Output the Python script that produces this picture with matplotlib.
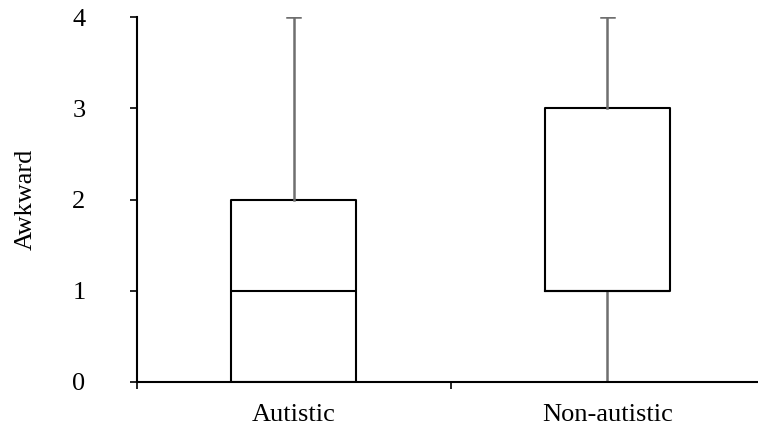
import matplotlib
matplotlib.use("Agg")
import matplotlib.pyplot as plt

# box plot summary
groups = ["Autistic", "Non-autistic"]
mins = [0, 0]
q1s = [0, 1]
medians = [1, 1]
q3s = [2, 3]
maxs = [4, 4]

plt.rcParams['font.family'] = ['Liberation Serif', 'DejaVu Serif']

fig = plt.figure(figsize=(7.58, 4.32), dpi=100)
ax = fig.add_axes([137 / 758, 1 - 382 / 432, (757 - 137) / 758, (382 - 17) / 432])

stats = []
for name, lo, a, m, b, hi in zip(groups, mins, q1s, medians, q3s, maxs):
    stats.append(dict(label=name, whislo=lo, q1=a, med=m, q3=b, whishi=hi, fliers=[]))

positions = list(range(1, len(groups) + 1))
ax.bxp(stats, positions=positions, widths=0.4, showfliers=False, capwidths=0.04,
       boxprops=dict(color='black', linewidth=1.5),
       medianprops=dict(color='black', linewidth=1.5),
       whiskerprops=dict(color='#6f6f6f', linewidth=1.8),
       capprops=dict(color='#6f6f6f', linewidth=1.8))

ax.set_xlim(0.5, 0.5 + 620 / 313.5)
ax.set_ylim(0, 4)
ax.set_yticks([0, 1, 2, 3, 4])
ax.set_xticks(positions)
ax.set_xticklabels(groups)
# category boundary tick between the groups
ax.set_xticks([0.5, 1.5], minor=True)
ax.tick_params(axis='x', which='major', length=0, pad=16, labelsize=19)
ax.tick_params(axis='x', which='minor', length=5, width=1.2, direction='out')
ax.tick_params(axis='y', length=5, width=1.2, direction='out', labelsize=19, pad=32)
ax.set_ylabel("Awkward", fontsize=19, labelpad=26)

ax.spines['top'].set_visible(False)
ax.spines['right'].set_visible(False)
ax.spines['left'].set_linewidth(1.5)
ax.spines['bottom'].set_linewidth(1.5)
ax.spines['bottom'].set_zorder(5)
ax.spines['left'].set_zorder(5)

fig.savefig("out.png", dpi=100)
